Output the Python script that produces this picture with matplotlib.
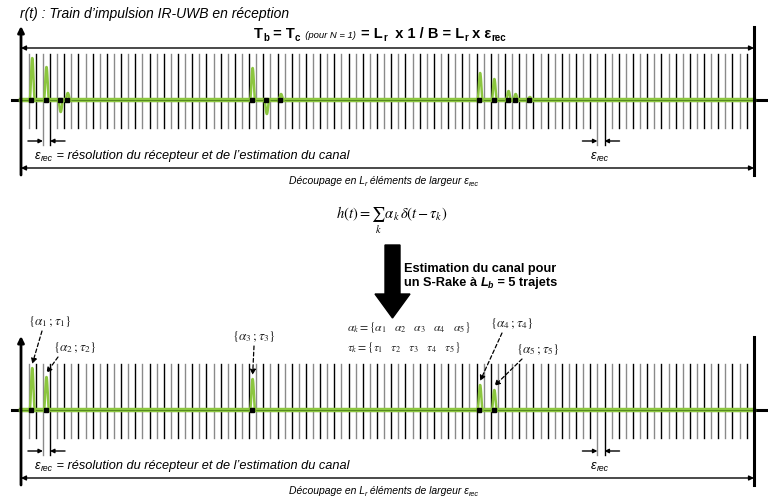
import numpy as np
import matplotlib
matplotlib.use('Agg')
import matplotlib.pyplot as plt
from matplotlib.patches import Polygon

plt.rcParams['font.family'] = ['Liberation Sans', 'DejaVu Sans']
plt.rcParams['mathtext.fontset'] = 'stix'

# ---------------- data ----------------
n_cells = 102                                   # number of epsilon_rec cells drawn
rx_bins = [0, 2, 4, 5, 31, 33, 35, 63, 65, 67, 68, 70]      # received pulse cells
rx_amps = [42, 33, -12, 7, 32, -14, 6, 27, 21, 9, 6, 3]     # received amplitudes
est_bins = [0, 2, 31, 63, 65]                               # S-Rake selected paths
est_amps = [42, 33, 31, 25, 20]
marker_cells = [2, 80]                                      # epsilon_rec markers
path_labels = [r'$\{\alpha_1\,;\tau_1\}$', r'$\{\alpha_2\,;\tau_2\}$',
               r'$\{\alpha_3\,;\tau_3\}$', r'$\{\alpha_4\,;\tau_4\}$',
               r'$\{\alpha_5\,;\tau_5\}$']

# ---------------- layout ----------------
W, H = 768, 499
X0, DX = 28.7, 7.109
AXL, AXR = 21, 754
GREEN = '#8cc63f'
DKGREEN = '#4d7f1c'

fig = plt.figure(figsize=(W / 100, H / 100), dpi=100)
ax = fig.add_axes([0, 0, 1, 1])
ax.set_xlim(0, W)
ax.set_ylim(H, 0)
ax.axis('off')
renderer = fig.canvas.get_renderer()


def rich(x, y, pieces, ha='left'):
    """pieces: (text, size, weight, style, dy)"""
    objs = []
    cx = 0
    for txt, size, weight, style, dy in pieces:
        t = ax.text(0, y + dy, txt, fontsize=size, fontweight=weight,
                    fontstyle=style, va='baseline', ha='left')
        w = t.get_window_extent(renderer).width
        objs.append((t, cx))
        cx += w
    if ha == 'center':
        x = x - cx / 2
    for t, off in objs:
        t.set_x(x + off)


def cell_x(b):
    return X0 + DX * (b + 0.5)


def panel(yb, bins, amps, top_arrow):
    tall = set()
    for m in marker_cells:
        tall.update([m, m + 1])
    for k in range(n_cells):
        x = X0 + DX * k
        col = 'black' if k % 2 else '#8a8a8a'
        bot = yb + 45 if k in tall else yb + 28
        ax.plot([x, x], [yb - 46, bot], color=col, lw=1.0, zorder=1)
    ax.plot([12, W], [yb, yb], color='black', lw=2.2, zorder=2)
    ax.plot([AXL, AXR], [yb, yb], color=GREEN, lw=3.2, zorder=3)
    ax.plot([AXL, AXR], [yb, yb], color=DKGREEN, lw=0.6, zorder=3)
    for b, a in zip(bins, amps):
        xc = cell_x(b)
        xs = np.linspace(xc - 2.6, xc + 2.6, 40)
        ys = yb - a * np.sin(np.pi * (xs - xc + 2.6) / 5.2) ** 2
        ax.plot(xs, ys, color=GREEN, lw=1.8, zorder=4, solid_capstyle='round')
        ax.plot([xc - 0.8], [yb], marker='s', ms=2.2, color='black', zorder=5)
    ax.annotate('', xy=(AXL, yb - 74), xytext=(AXL, yb + 75),
                arrowprops=dict(arrowstyle='-|>', lw=2.0, color='black',
                                mutation_scale=9, shrinkA=0, shrinkB=0), zorder=6)
    ax.plot([AXR, AXR], [yb - 73, yb + 75], color='black', lw=2.2, zorder=6)
    for m in marker_cells:
        xa = X0 + DX * m
        xb = X0 + DX * (m + 1)
        ya = yb + 41
        ax.annotate('', xy=(xa, ya), xytext=(xa - 15, ya),
                    arrowprops=dict(arrowstyle='-|>', lw=1.0, color='black',
                                    mutation_scale=6, shrinkA=0, shrinkB=0))
        ax.annotate('', xy=(xb, ya), xytext=(xb + 15, ya),
                    arrowprops=dict(arrowstyle='-|>', lw=1.0, color='black',
                                    mutation_scale=6, shrinkA=0, shrinkB=0))
    rich(35, yb + 59, [('ε', 9.2, 'normal', 'italic', 0),
                       ('rec', 6.2, 'normal', 'italic', 2),
                       (' = résolution du récepteur et de l’estimation du canal',
                        9.2, 'normal', 'italic', 0)])
    rich(591, yb + 59, [('ε', 9.2, 'normal', 'italic', 0),
                        ('rec', 6.2, 'normal', 'italic', 2)])
    ya = yb + 68
    ax.annotate('', xy=(AXL, ya), xytext=(AXR, ya),
                arrowprops=dict(arrowstyle='<|-|>', lw=1.0, color='black',
                                mutation_scale=7, shrinkA=0, shrinkB=0))
    rich(384, yb + 84, [('Découpage en L', 7.5, 'normal', 'italic', 0),
                        ('r', 5.2, 'normal', 'italic', 2),
                        (' éléments de largeur ε', 7.5, 'normal', 'italic', 0),
                        ('rec', 5.2, 'normal', 'italic', 2)], ha='center')
    if top_arrow:
        ya = yb - 52
        ax.annotate('', xy=(AXL, ya), xytext=(AXR, ya),
                    arrowprops=dict(arrowstyle='<|-|>', lw=1.0, color='black',
                                    mutation_scale=7, shrinkA=0, shrinkB=0))


# ---------------- top panel ----------------
ax.text(20, 18, 'r(t) : Train d’impulsion IR-UWB en réception', fontsize=10,
        fontstyle='italic', va='baseline')
rich(380, 38, [('T', 10.5, 'bold', 'normal', 0), ('b', 7, 'bold', 'normal', 3),
               (' = T', 10.5, 'bold', 'normal', 0), ('c', 7, 'bold', 'normal', 3),
               ('  (pour N = 1)  ', 6.8, 'normal', 'italic', 0),
               ('= L', 10.5, 'bold', 'normal', 0), ('r', 7, 'bold', 'normal', 3),
               ('  x 1 / B = L', 10.5, 'bold', 'normal', 0), ('r', 7, 'bold', 'normal', 3),
               (' x ε', 10.5, 'bold', 'normal', 0), ('rec', 7, 'bold', 'normal', 3)],
     ha='center')
panel(100, rx_bins, rx_amps, True)

# ---------------- middle ----------------
ax.text(392, 219, r'$h(t)=\sum_{k}\,\alpha_k\,\delta(t-\tau_k)$', fontsize=10.5,
        ha='center', va='baseline')
ax.add_patch(Polygon([[385, 245], [400, 245], [400, 294], [410, 294],
                      [392.5, 318], [375, 294], [385, 294]],
                     closed=True, color='black'))
ax.text(404, 272, 'Estimation du canal pour', fontsize=9.2, fontweight='bold',
        va='baseline')
rich(404, 286, [('un S-Rake à ', 9.2, 'bold', 'normal', 0),
                ('L', 9.2, 'bold', 'italic', 0), ('b', 6.3, 'bold', 'italic', 2),
                (' = 5 trajets', 9.2, 'bold', 'normal', 0)])

# ---------------- bottom panel ----------------
panel(410, est_bins, est_amps, False)
ax.text(347, 331, r'$\alpha_k = \{\alpha_1\quad\alpha_2\quad\alpha_3\quad\alpha_4\quad\alpha_5\}$',
        fontsize=8.5, va='baseline', color='#222222')
ax.text(347, 351, r'$\tau_k = \{\tau_1\quad\tau_2\quad\tau_3\quad\tau_4\quad\tau_5\}$',
        fontsize=8.5, va='baseline', color='#222222')

label_pos = [(50, 325), (75, 351), (254, 340), (512, 327), (538, 353)]
arrow_from = [(42, 331), (58, 357), (254, 346), (502, 333), (522, 359)]
for lab, (lx, ly), (fx, fy), b, a in zip(path_labels, label_pos, arrow_from,
                                         est_bins, est_amps):
    ax.text(lx, ly, lab, fontsize=9.5, ha='center', va='baseline', color='#222222')
    tx = cell_x(b)
    ty = 410 - a - 4
    ax.annotate('', xy=(tx, ty), xytext=(fx, fy),
                arrowprops=dict(arrowstyle='-|>', lw=0.9, color='black',
                                linestyle=(0, (3, 2)), mutation_scale=8,
                                shrinkA=0, shrinkB=0))

fig.savefig('out.png', dpi=100)
